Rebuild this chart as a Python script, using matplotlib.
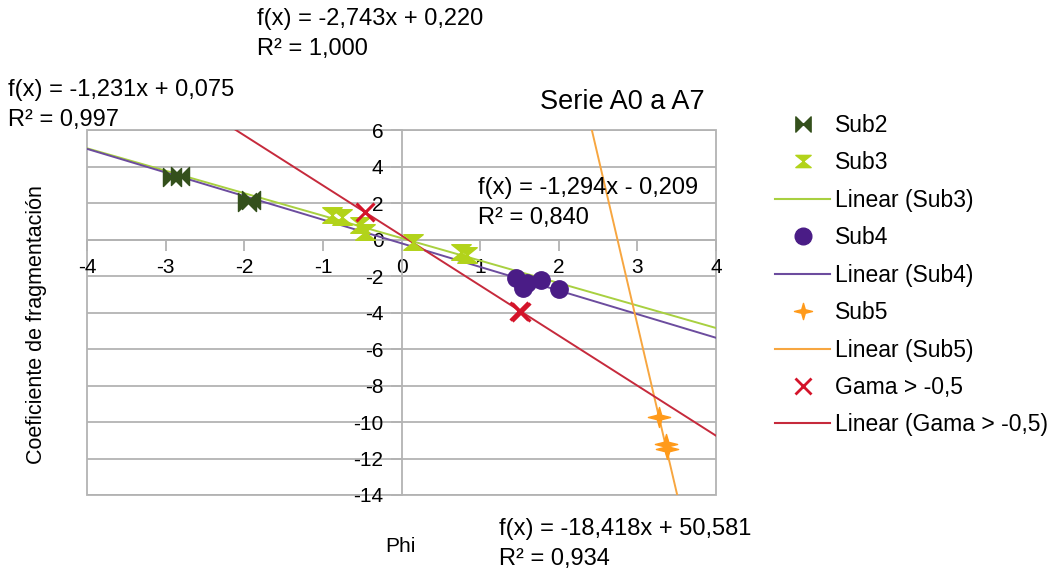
import numpy as np
import matplotlib
matplotlib.use("Agg")
import matplotlib.pyplot as plt
from matplotlib.path import Path
from matplotlib.lines import Line2D
from matplotlib.patches import Rectangle

plt.rcParams['font.family'] = ['Liberation Sans', 'DejaVu Sans']

# Data
sub2_x = [-2.92, -2.82, -1.97, -1.91]
sub2_y = [3.42, 3.50, 2.06, 2.16]

sub3_x = [-0.89, -0.76, -0.53, -0.47, 0.14, 0.76, 0.83]
sub3_y = [1.34, 1.23, 0.79, 0.41, -0.14, -0.68, -0.85]

sub4_x = [1.45, 1.55, 1.60, 1.78, 2.00]
sub4_y = [-2.10, -2.65, -2.40, -2.20, -2.70]

sub5_x = [3.28, 3.36, 3.38]
sub5_y = [-9.70, -11.20, -11.50]

gama_x = [-0.46, 1.49, 1.52]
gama_y = [1.50, -3.90, -3.95]

# trend lines: slope, intercept (from the chart labels)
fit_sub3 = (-1.231, 0.075)
fit_sub4 = (-1.294, -0.209)
fit_sub5 = (-18.418, 50.581)
fit_gama = (-2.743, 0.220)

x_ticks = [-4, -3, -2, -1, 0, 1, 2, 3, 4]
y_ticks = [6, 4, 2, 0, -2, -4, -6, -8, -10, -12, -14]

# custom marker shapes
bowtie = Path([(-1, -1), (-1, 1), (1, -1), (1, 1), (-1, -1)],
              [Path.MOVETO, Path.LINETO, Path.LINETO, Path.LINETO, Path.CLOSEPOLY])
hourglass = Path([(-1, 0.8), (1, 0.8), (-1, -0.8), (1, -0.8), (-1, 0.8)],
                 [Path.MOVETO, Path.LINETO, Path.LINETO, Path.LINETO, Path.CLOSEPOLY])
star4 = Path([(0, 0.9), (0.2, 0.2), (1, 0), (0.2, -0.2), (0, -0.9),
              (-0.2, -0.2), (-1, 0), (-0.2, 0.2), (0, 0.9)],
             [Path.MOVETO] + [Path.LINETO] * 7 + [Path.CLOSEPOLY])

c_sub2 = "#34501c"
c_sub3 = "#b2d31a"
c_sub3_line = "#a8d040"
c_sub4 = "#4a1c86"
c_sub4_line = "#6c4c9e"
c_sub5 = "#ff9a1a"
c_sub5_line = "#f7a640"
c_gama = "#d4142a"
c_gama_line = "#c62a3c"

fig = plt.figure(figsize=(10.55, 5.71), dpi=100)
ax = fig.add_axes([0.0825, 0.1331, 0.5962, 0.6392])

xs = np.array([-4.0, 4.0])
ax.plot(xs, fit_sub3[0] * xs + fit_sub3[1], color=c_sub3_line, lw=1.4, zorder=3)
ax.plot(xs, fit_sub4[0] * xs + fit_sub4[1], color=c_sub4_line, lw=1.4, zorder=3)
ax.plot(xs, fit_sub5[0] * xs + fit_sub5[1], color=c_sub5_line, lw=1.4, zorder=3)
ax.plot(xs, fit_gama[0] * xs + fit_gama[1], color=c_gama_line, lw=1.4, zorder=3)

ax.plot(sub2_x, sub2_y, ls="none", marker=bowtie, ms=13, color=c_sub2, zorder=4)
ax.plot(sub3_x, sub3_y, ls="none", marker=hourglass, ms=14, color=c_sub3, zorder=4)
ax.plot(sub4_x, sub4_y, ls="none", marker="o", ms=12.5, color=c_sub4, zorder=4)
ax.plot(sub5_x, sub5_y, ls="none", marker=star4, ms=16, color=c_sub5, zorder=4)
ax.plot(gama_x, gama_y, ls="none", marker="x", ms=13, mew=2.2, color=c_gama, zorder=4)

ax.set_xlim(-4, 4)
ax.set_ylim(-14, 6)
ax.set_xticks(x_ticks)
ax.set_yticks(y_ticks)
ax.set_xticklabels([str(t) for t in x_ticks])
ax.set_yticklabels([str(t) for t in y_ticks])

grid_c = "#b3b3b3"
for t in y_ticks:
    ax.axhline(t, color=grid_c, lw=1.3, zorder=1)

for s in ["top", "right"]:
    ax.spines[s].set_visible(False)
ax.spines["left"].set_position(("data", 0))
ax.spines["bottom"].set_position(("data", 0))
ax.spines["left"].set_color(grid_c)
ax.spines["bottom"].set_color(grid_c)
ax.spines["left"].set_linewidth(1.3)
ax.spines["bottom"].set_linewidth(1.3)
ax.add_patch(Rectangle((0, 0), 1, 1, transform=ax.transAxes, fill=False,
                       edgecolor=grid_c, lw=1.3, zorder=1, clip_on=False))
ax.tick_params(axis="both", direction="out", length=8, width=1.3, color=grid_c,
               labelsize=15, pad=5)

fs = 17
ls = 1.45
fig.text(257 / 1055, 1 - 8 / 571, "f(x) = -2,743x + 0,220\nR² = 1,000",
         fontsize=fs, va="top", ha="left", linespacing=ls)
fig.text(8 / 1055, 1 - 79 / 571, "f(x) = -1,231x + 0,075\nR² = 0,997",
         fontsize=fs, va="top", ha="left", linespacing=ls)
fig.text(478 / 1055, 1 - 177 / 571, "f(x) = -1,294x - 0,209\nR² = 0,840",
         fontsize=fs, va="top", ha="left", linespacing=ls)
fig.text(499 / 1055, 1 - 518 / 571, "f(x) = -18,418x + 50,581\nR² = 0,934",
         fontsize=fs, va="top", ha="left", linespacing=ls)
fig.text(622 / 1055, 1 - 102 / 571, "Serie A0 a A7", fontsize=19.5,
         ha="center", va="center")
fig.text(400 / 1055, 1 - 546 / 571, "Phi", fontsize=15, ha="center", va="center")
fig.text(37 / 1055, 1 - 325 / 571, "Coeficiente de fragmentación", fontsize=15.5,
         rotation=90, ha="center", va="center")

handles = [
    Line2D([], [], ls="none", marker=bowtie, ms=11, color=c_sub2),
    Line2D([], [], ls="none", marker=hourglass, ms=11, color=c_sub3),
    Line2D([], [], color=c_sub3_line, lw=1.5),
    Line2D([], [], ls="none", marker="o", ms=12, color=c_sub4),
    Line2D([], [], color=c_sub4_line, lw=1.5),
    Line2D([], [], ls="none", marker=star4, ms=13, color=c_sub5),
    Line2D([], [], color=c_sub5_line, lw=1.5),
    Line2D([], [], ls="none", marker="x", ms=11, mew=2, color=c_gama),
    Line2D([], [], color=c_gama_line, lw=1.5),
]
labels = ["Sub2", "Sub3", "Linear (Sub3)", "Sub4", "Linear (Sub4)",
          "Sub5", "Linear (Sub5)", "Gama > -0,5", "Linear (Gama > -0,5)"]
fig.legend(handles, labels, loc="upper left", bbox_to_anchor=(775 / 1055, 1 - 114 / 571),
           frameon=False, fontsize=16.5, labelspacing=0.63, handlelength=2.4,
           handletextpad=0.22, borderaxespad=0, borderpad=0)

fig.savefig("out.png", dpi=100)
